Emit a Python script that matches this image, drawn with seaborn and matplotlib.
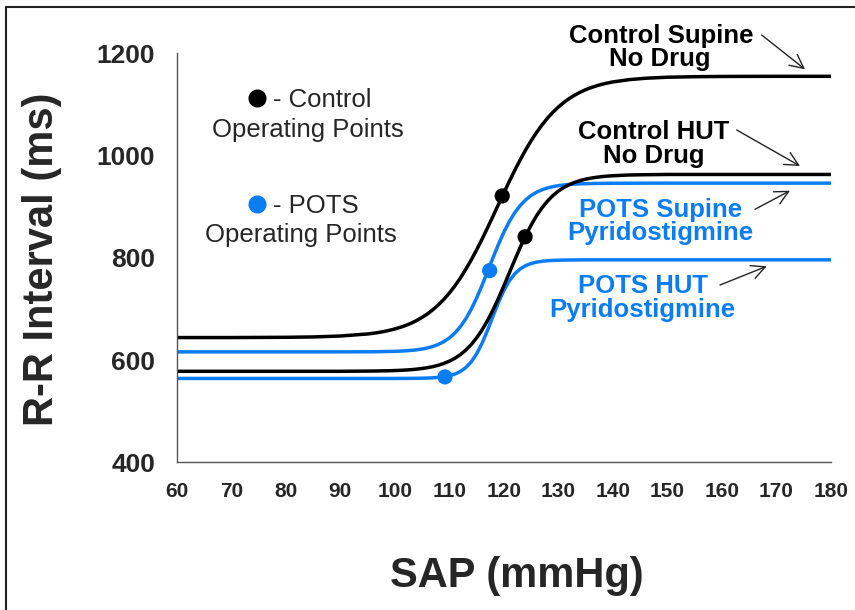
import matplotlib
matplotlib.use("Agg")
import matplotlib.pyplot as plt
from matplotlib.lines import Line2D
import pandas as pd
import seaborn as sns

# ---------------- data ----------------
sap = [60, 70, 80, 85, 90,
       95, 96, 97, 98, 99, 100, 101, 102, 103, 104, 105, 106, 107, 108, 109,
       110, 111, 112, 113, 114, 115, 116, 117, 118, 119, 120,
       121, 122, 123, 124, 125, 126, 127, 128, 129, 130,
       131, 132, 133, 134, 135, 136, 137, 138, 139, 140,
       143, 146, 150, 155, 160, 170, 180]

control_supine = [644, 644, 644.5, 645.2, 647,
                  651, 652.3, 653.9, 655.8, 658.1, 660.8, 664.0, 667.7, 672.1, 677.3,
                  683.4, 690.4, 698.6, 708.0, 718.8,
                  731.0, 744.7, 760.1, 777.1, 795.5, 815.4, 836.4, 858.5, 881.2, 904.1, 927.0,
                  949.4, 971.1, 991.7, 1011.1, 1028.9, 1045.2, 1059.9, 1073.1, 1084.7, 1095.0,
                  1103.8, 1111.6, 1118.2, 1123.9, 1128.8, 1132.9, 1136.4, 1139.4, 1141.9, 1144.0,
                  1148.5, 1151.2, 1153.2, 1154.2, 1154.7, 1155, 1155]

control_hut = [578, 578, 578, 578, 578,
               578.4, 578.5, 578.7, 578.9, 579.1, 579.5, 579.9, 580.5, 581.2, 582.2,
               583.5, 585.1, 587.2, 589.9, 593.4,
               597.8, 603.4, 610.5, 619.3, 630.1, 643.2, 658.9, 677.1, 697.8, 720.6, 745.2,
               770.5, 795.8, 820.4, 843.2, 863.9, 882.2, 897.8, 910.9, 921.7, 930.5,
               937.6, 943.2, 947.6, 951.1, 953.8, 955.9, 957.5, 958.8, 959.8, 960.5,
               962, 962.5, 963, 963, 963, 963, 963]

pots_supine = [616, 616, 616, 616, 616,
               616.2, 616.3, 616.4, 616.6, 616.8, 617.1, 617.5, 618.1, 618.9, 620.0,
               621.6, 623.7, 626.7, 630.7, 636.0,
               643.2, 652.7, 664.9, 680.3, 699.1, 721.2, 746.2, 772.8, 800.0, 826.1, 850.0,
               870.8, 888.3, 902.3, 913.4, 921.9, 928.3, 933.1, 936.6, 939.2, 941.1,
               942.5, 943.4, 944.2, 944.7, 945.0, 945.3, 945.5, 945.6, 945.7, 945.8,
               945.9, 946, 946, 946, 946, 946, 946]

pots_hut = [564, 564, 564, 564, 564,
            564, 564, 564, 564, 564, 564, 564.1, 564.1, 564.2, 564.3,
            564.5, 564.8, 565.3, 566.1, 567.3,
            569.4, 572.5, 577.5, 585.1, 596.2, 612.0, 632.8, 658.0, 685.6, 712.5, 736.1,
            754.9, 768.7, 778.3, 784.7, 788.9, 791.6, 793.2, 794.3, 794.9, 795.3,
            795.6, 795.7, 795.8, 795.9, 796, 796, 796, 796, 796, 796,
            796, 796, 796, 796, 796, 796, 796]

curve_names = ["Control Supine", "Control HUT", "POTS Supine", "POTS HUT"]
curve_groups = ["Control", "Control", "POTS", "POTS"]

op_sap = [119.7, 123.9, 117.4, 109.2]
op_rr = [921, 841, 775, 567]
op_group = ["Control", "Control", "POTS", "POTS"]

x_ticks = [60, 70, 80, 90, 100, 110, 120, 130, 140, 150, 160, 170, 180]
y_ticks = [400, 600, 800, 1000, 1200]

x_label = "SAP (mmHg)"
y_label = "R-R Interval (ms)"

# ---------------- style ----------------
BLACK = "#000000"
BLUE = "#0A7DF5"
AXIS_GREY = "#555555"
group_colors = {"Control": BLACK, "POTS": BLUE}

sns.set_style("white")
plt.rcParams["font.family"] = ["Liberation Sans", "DejaVu Sans"]

W, H = 855, 610


def fp(px, py):
    """figure pixel (from top-left) -> figure fraction"""
    return px / W, 1 - py / H


# ---------------- tables ----------------
series = [control_supine, control_hut, pots_supine, pots_hut]
frames = []
for name, grp, vals in zip(curve_names, curve_groups, series):
    frames.append(pd.DataFrame({"SAP": sap, "RR": vals, "curve": name, "group": grp}))
df = pd.concat(frames, ignore_index=True)
ops = pd.DataFrame({"SAP": op_sap, "RR": op_rr, "group": op_group})

palette = {n: group_colors[g] for n, g in zip(curve_names, curve_groups)}

# ---------------- figure ----------------
fig = plt.figure(figsize=(W / 100, H / 100), dpi=100)
ax = fig.add_axes([176.7 / W, 1 - 462.3 / H, (831 - 176.7) / W, (462.3 - 53.3) / H])

sns.lineplot(data=df, x="SAP", y="RR", hue="curve",
             hue_order=["POTS HUT", "POTS Supine", "Control HUT", "Control Supine"],
             palette=palette, linewidth=2.5, estimator=None, sort=False,
             legend=False, ax=ax, solid_joinstyle="round", solid_capstyle="round")
sns.scatterplot(data=ops, x="SAP", y="RR", hue="group", palette=group_colors,
                s=120, linewidth=0, legend=False, ax=ax, zorder=5)

ax.set_xlim(60, 180)
ax.set_ylim(400, 1200)
ax.set_xticks(x_ticks)
ax.set_yticks(y_ticks)
ax.set_xticklabels([str(v) for v in x_ticks], fontsize=15, fontweight="bold")
ax.set_yticklabels([str(v) for v in y_ticks], fontsize=19, fontweight="bold")
ax.set_xlabel("")
ax.set_ylabel("")
for side in ["top", "right"]:
    ax.spines[side].set_visible(False)
for side in ["left", "bottom"]:
    ax.spines[side].set_color(AXIS_GREY)
    ax.spines[side].set_linewidth(1.0)
ax.tick_params(axis="both", direction="in", length=8, width=1.0, color=AXIS_GREY)
ax.tick_params(axis="x", pad=14)
ax.tick_params(axis="y", pad=15.5)

# axis titles
fig.text(*fp(516.5, 586.7), x_label, fontsize=30, fontweight="bold",
         ha="center", va="baseline")
fig.text(*fp(53.3, 259), y_label, fontsize=30, fontweight="bold",
         rotation=90, rotation_mode="anchor", ha="center", va="baseline")

# operating-point key
fig.add_artist(Line2D([fp(257, 98.3)[0]], [fp(257, 98.3)[1]], marker="o",
                      markersize=12, color=BLACK, linestyle="none"))
fig.text(*fp(273, 107.3), "- Control", fontsize=18.5, ha="left", va="baseline")
fig.text(*fp(307.5, 136.7), "Operating Points", fontsize=18.5, ha="center", va="baseline")
fig.add_artist(Line2D([fp(257, 204)[0]], [fp(257, 204)[1]], marker="o",
                      markersize=12, color=BLUE, linestyle="none"))
fig.text(*fp(272.7, 212.7), "- POTS", fontsize=18.5, ha="left", va="baseline")
fig.text(*fp(300.8, 242), "Operating Points", fontsize=18.5, ha="center", va="baseline")

# curve labels
labels = [
    ("Control Supine", 661.7, 42.7, BLACK),
    ("No Drug", 660, 66, BLACK),
    ("Control HUT", 654, 139.3, BLACK),
    ("No Drug", 654, 162.7, BLACK),
    ("POTS Supine", 660.8, 216.7, BLUE),
    ("Pyridostigmine", 660.8, 240, BLUE),
    ("POTS HUT", 642.5, 293.3, BLUE),
    ("Pyridostigmine", 642.5, 317.3, BLUE),
]
for txt, px, py, col in labels:
    fig.text(*fp(px, py), txt, fontsize=18.5, fontweight="bold", color=col,
             ha="center", va="baseline")

arrows = [
    ((761.7, 35), (805, 69.3)),
    ((736.7, 130), (800, 166)),
    ((755, 209.3), (790, 190.7)),
    ((720, 285), (766.7, 266.3)),
]
for start, end in arrows:
    ax.annotate("", xy=fp(*end), xytext=fp(*start),
                xycoords="figure fraction", textcoords="figure fraction",
                annotation_clip=False,
                arrowprops=dict(arrowstyle="->,head_length=0.7,head_width=0.35",
                                mutation_scale=14, lw=1.0, color="#222222",
                                shrinkA=0, shrinkB=0))

# frame of the original picture (left and top edges)
fig.add_artist(Line2D([6 / W, 6 / W], [0, 1 - 7 / H], color="#222222", lw=1.5))
fig.add_artist(Line2D([6 / W, 1], [1 - 7 / H, 1 - 7 / H], color="#222222", lw=1.5))

fig.savefig("out.png", dpi=100)
